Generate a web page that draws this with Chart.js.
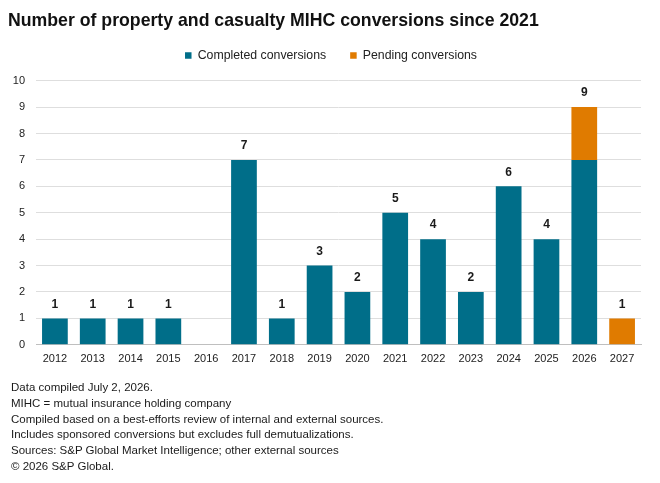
<!DOCTYPE html>
<html><head><meta charset="utf-8">
<script src="https://cdn.jsdelivr.net/npm/chart.js@4/dist/chart.umd.min.js"></script>
<style>
html,body{margin:0;padding:0;background:#fff;}
#wrap{position:relative;width:660px;height:381px;}
#notes{position:absolute;left:11px;top:380px;font-family:"Liberation Sans",Arial,sans-serif;font-size:11.5px;line-height:15.8px;color:#1a1a1a;}
</style></head>
<body>
<div id="wrap"><canvas id="c"></canvas></div>
<div id="notes">
<div>Data compiled July 2, 2026.</div>
<div>MIHC = mutual insurance holding company</div>
<div>Compiled based on a best-efforts review of internal and external sources.</div>
<div>Includes sponsored conversions but excludes full demutualizations.</div>
<div>Sources: S&amp;P Global Market Intelligence; other external sources</div>
<div>© 2026 S&amp;P Global.</div>
</div>
<script>
const years = ["2012","2013","2014","2015","2016","2017","2018","2019","2020","2021","2022","2023","2024","2025","2026","2027"];
const completed = [1,1,1,1,0,7,1,3,2,5,4,2,6,4,7,0];
const pending   = [0,0,0,0,0,0,0,0,0,0,0,0,0,0,2,1];
const yTicks = [0,1,2,3,4,5,6,7,8,9,10];

const totalsPlugin = {
  id:'totals',
  afterDatasetsDraw(chart){
    const ctx = chart.ctx;
    const y = chart.scales.y;
    const metaC = chart.getDatasetMeta(0);
    ctx.save();
    ctx.font = 'bold 12px "Liberation Sans", Arial, sans-serif';
    ctx.fillStyle = '#1a1a1a';
    ctx.textAlign = 'center';
    ctx.textBaseline = 'bottom';
    years.forEach((yr,i)=>{
      const t = completed[i]+pending[i];
      if(!t) return;
      const x = metaC.data[i].x;
      ctx.fillText(String(t), x, y.getPixelForValue(t)-8);
    });
    ctx.restore();
  }
};

const legendLayout = {
  id:'legendLayout',
  beforeLayout(chart){
    const lg = chart.legend;
    if(lg && !lg._patched){
      const orig = lg.fit;
      lg.fit = function(){ orig.call(this); this.height = 49.4; };
      lg._patched = true;
    }
  },
  afterLayout(chart){
    const lg = chart.legend;
    if(lg){ lg.top -= 5.8; lg.bottom -= 5.8; lg.left += 6.5; lg.right += 6.5; }
  }
};

new Chart(document.getElementById('c'),{
  type:'bar',
  data:{labels:years,datasets:[
    {label:'Completed conversions',data:completed,backgroundColor:'#006e89',borderWidth:0},
    {label:'Pending conversions',data:pending,backgroundColor:'#e07b00',borderWidth:0}
  ]},
  options:{
    responsive:true,maintainAspectRatio:false,animation:false,
    layout:{padding:{left:8,right:19,top:0,bottom:7}},
    datasets:{bar:{categoryPercentage:0.68,barPercentage:1}},
    plugins:{
      title:{display:true,text:'Number of property and casualty MIHC conversions since 2021',align:'start',
        color:'#111',font:{family:'"Liberation Sans",Arial,sans-serif',size:17.7,weight:'bold'},
        padding:{top:10,bottom:0}},
      legend:{display:true,position:'top',
        labels:{boxWidth:6.5,boxHeight:6.5,padding:24,color:'#222',font:{family:'"Liberation Sans",Arial,sans-serif',size:12.3}}},
      tooltip:{enabled:false}
    },
    scales:{
      x:{stacked:true,grid:{display:false,drawTicks:false},border:{color:'#bfbfbf'},
        ticks:{color:'#222',font:{family:'"Liberation Sans",Arial,sans-serif',size:11},maxRotation:0,padding:8}},
      y:{stacked:true,min:0,max:10,
        afterBuildTicks(s){s.ticks=yTicks.map(v=>({value:v}));},
        afterFit(s){s.width=28;},
        grid:{color:'#dedede',drawTicks:false},border:{display:false},
        ticks:{color:'#222',font:{family:'"Liberation Sans",Arial,sans-serif',size:11},padding:11}}
    }
  },
  plugins:[legendLayout,totalsPlugin]
});
</script>
</body></html>
